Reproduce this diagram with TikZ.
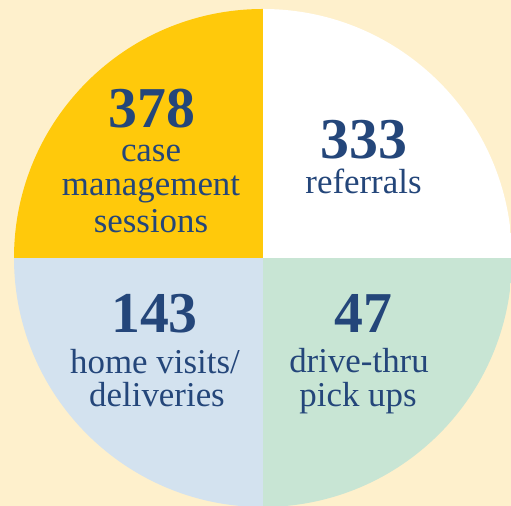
\documentclass[tikz,border=0pt]{standalone}
\usepackage{fontspec}
\setmainfont{Liberation Serif}
\definecolor{cream}{HTML}{FEF0CC}
\definecolor{qyellow}{HTML}{FFC90B}
\definecolor{qblue}{HTML}{D3E2EF}
\definecolor{qgreen}{HTML}{C8E5D4}
\definecolor{navy}{HTML}{24467A}
\tikzset{
  num/.style={anchor=base, inner sep=0pt, text=navy, font=\fontsize{58}{58}\selectfont\bfseries},
  lbl/.style={anchor=base, inner sep=0pt, text=navy, font=\fontsize{35}{35}\selectfont},
}
\begin{document}
\begin{tikzpicture}[x=1bp,y=1bp]
\useasboundingbox (0,0) rectangle (511,506);
\fill[cream] (0,0) rectangle (511,506);
\coordinate (c) at (263,248);
\begin{scope}
  \clip (0,0) rectangle (511,506);
  \clip (c) circle (249);
  \fill[qyellow] (c) rectangle ++(-260,260);
  \fill[white] (c) rectangle ++(260,260);
  \fill[qblue] (c) rectangle ++(-260,-260);
  \fill[qgreen] (c) rectangle ++(260,-260);
\end{scope}
\node[num] (n1) at (152,378) {378};
\node[lbl] (l1a) at (151,344) {case};
\node[lbl] (l1b) at (151,310) {management};
\node[lbl] (l1c) at (151,273) {sessions};
\node[num] (n2) at (364,347) {333};
\node[lbl] (l2a) at (363.5,312) {referrals};
\node[num] (n3) at (154.5,173) {143};
\node[lbl] (l3a) at (155,132) {home visits/};
\node[lbl] (l3b) at (157,99) {deliveries};
\node[num] (n4) at (363,173) {47};
\node[lbl] (l4a) at (359,133) {drive-thru};
\node[lbl] (l4b) at (358,99) {pick ups};
\end{tikzpicture}
\end{document}
